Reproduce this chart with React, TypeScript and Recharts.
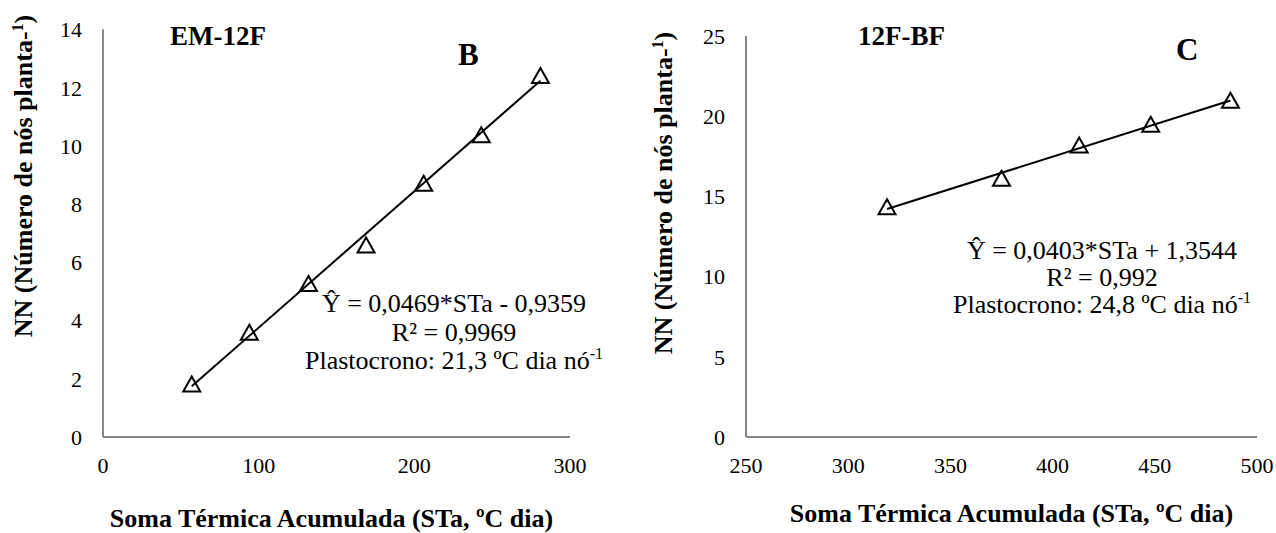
import React from 'react';
import { ComposedChart, ReferenceLine, Scatter, XAxis, YAxis } from 'recharts';

// panel B (EM-12F)
const pointsB = [
	{ x: 57, y: 1.82 },
	{ x: 94, y: 3.6 },
	{ x: 132, y: 5.27 },
	{ x: 169, y: 6.6 },
	{ x: 206, y: 8.72 },
	{ x: 243, y: 10.38 },
	{ x: 281, y: 12.42 },
];
const trendB = [
	{ x: 57, y: 1.74 },
	{ x: 281, y: 12.24 },
];
const xTicksB = [0, 100, 200, 300];
const yTicksB = [0, 2, 4, 6, 8, 10, 12, 14];

// panel C (12F-BF)
const pointsC = [
	{ x: 319, y: 14.36 },
	{ x: 375, y: 16.13 },
	{ x: 413, y: 18.2 },
	{ x: 448, y: 19.5 },
	{ x: 487, y: 21.0 },
];
const trendC = [
	{ x: 319, y: 14.21 },
	{ x: 487, y: 20.98 },
];
const xTicksC = [250, 300, 350, 400, 450, 500];
const yTicksC = [0, 5, 10, 15, 20, 25];

const serif = 'Liberation Serif';
const axisStroke = { stroke: '#868686', strokeWidth: 2 };
const tickStyle = { fill: '#000', fontSize: 22, fontFamily: serif };

const Triangle = (props: any) => {
	const { cx, cy } = props;
	const w = 17;
	const h = 15;
	return (
		<path
			d={`M${cx},${cy - h / 2}L${cx + w / 2},${cy + h / 2}L${cx - w / 2},${cy + h / 2}Z`}
			fill='none'
			stroke='#000'
			strokeWidth={2}
		/>
	);
};

type PanelProps = {
	points: { x: number; y: number }[];
	trend: { x: number; y: number }[];
	xTicks: number[];
	yTicks: number[];
	margin: { top: number; right: number; bottom: number; left: number };
};

const Panel = ({ points, trend, xTicks, yTicks, margin }: PanelProps) => (
	<ComposedChart width={638} height={533} margin={margin} style={{ fontFamily: serif }}>
		<XAxis
			type='number'
			dataKey='x'
			domain={[xTicks[0], xTicks[xTicks.length - 1]]}
			ticks={xTicks}
			interval={0}
			tickLine={false}
			tickSize={0}
			tickMargin={20}
			axisLine={axisStroke}
			tick={tickStyle}
			height={60}
			allowDataOverflow
		/>
		<YAxis
			type='number'
			dataKey='y'
			domain={[yTicks[0], yTicks[yTicks.length - 1]]}
			ticks={yTicks}
			interval={0}
			tickLine={false}
			tickSize={0}
			tickMargin={21}
			axisLine={axisStroke}
			tick={tickStyle}
			width={60}
			allowDataOverflow
		/>
		<ReferenceLine
			segment={trend}
			stroke='#000'
			strokeWidth={2}
			ifOverflow='visible'
		/>
		<Scatter data={points} shape={<Triangle />} isAnimationActive={false} />
	</ComposedChart>
);

const YTitle = ({ x, y }: { x: number; y: number }) => (
	<text
		transform={`translate(${x},${y}) rotate(-90)`}
		textAnchor='middle'
		style={{ fontFamily: serif }}
		fontWeight='bold'
		fontSize={26}
		fill='#000'
	>
		NN (Número de nós planta-
		<tspan fontSize={16} dy={-9}>
			1
		</tspan>
		<tspan dy={9}>)</tspan>
	</text>
);

type EqProps = { x: number; y: number; gap: number; lines: string[]; plast: string };

const Equation = ({ x, y, gap, lines, plast }: EqProps) => (
	<text textAnchor='middle' style={{ fontFamily: serif }} fontSize={26} fill='#000'>
		<tspan x={x} y={y}>{lines[0]}</tspan>
		<tspan x={x} y={y + gap}>{lines[1]}</tspan>
		<tspan x={x} y={y + gap * 2}>
			{plast}
			<tspan fontSize={16} dy={-10}>-1</tspan>
		</tspan>
	</text>
);

export default function App() {
	return (
		<div style={{ position: 'absolute', left: 0, top: 0, width: 1276, height: 533, background: '#fff' }}>
			<div style={{ position: 'absolute', left: 0, top: 0 }}>
				<Panel
					points={pointsB}
					trend={trendB}
					xTicks={xTicksB}
					yTicks={yTicksB}
					margin={{ top: 29.5, right: 68, bottom: 36, left: 43 }}
				/>
			</div>
			<div style={{ position: 'absolute', left: 638, top: 0 }}>
				<Panel
					points={pointsC}
					trend={trendC}
					xTicks={xTicksC}
					yTicks={yTicksC}
					margin={{ top: 36, right: 19, bottom: 36, left: 48 }}
				/>
			</div>
			<svg
				width={1276}
				height={533}
				style={{ position: 'absolute', left: 0, top: 0, pointerEvents: 'none' }}
			>
				<YTitle x={32} y={176} />
				<YTitle x={672} y={193} />
				<text x={331.5} y={527} textAnchor='middle' style={{ fontFamily: serif }} fontWeight='bold' fontSize={26}>
					Soma Térmica Acumulada (STa, ºC dia)
				</text>
				<text x={1011.5} y={522} textAnchor='middle' style={{ fontFamily: serif }} fontWeight='bold' fontSize={26}>
					Soma Térmica Acumulada (STa, ºC dia)
				</text>
				<text x={170} y={45} style={{ fontFamily: serif }} fontWeight='bold' fontSize={27}>EM-12F</text>
				<text x={458} y={65} style={{ fontFamily: serif }} fontWeight='bold' fontSize={31}>B</text>
				<text x={858} y={45} style={{ fontFamily: serif }} fontWeight='bold' fontSize={27}>12F-BF</text>
				<text x={1176} y={60} style={{ fontFamily: serif }} fontWeight='bold' fontSize={31}>C</text>
				<Equation
					x={454}
					y={312}
					gap={28.5}
					lines={['Ŷ = 0,0469*STa - 0,9359', 'R² = 0,9969']}
					plast='Plastocrono: 21,3 ºC dia nó'
				/>
				<Equation
					x={1102}
					y={259}
					gap={27}
					lines={['Ŷ = 0,0403*STa + 1,3544', 'R² = 0,992']}
					plast='Plastocrono: 24,8 ºC dia nó'
				/>
			</svg>
		</div>
	);
}
